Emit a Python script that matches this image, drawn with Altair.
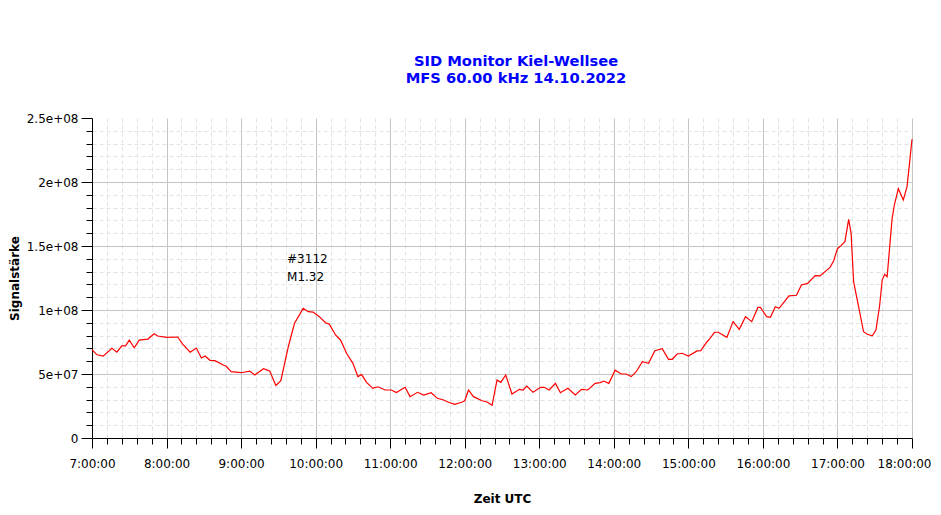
import altair as alt
import pandas as pd

# ---- data ----
times = ["07:00","07:04","07:09","07:16","07:20","07:24","07:27","07:30","07:34","07:38",
         "07:45","07:50","07:53","08:00","08:09","08:13","08:19","08:24","08:28","08:31",
         "08:35","08:39","08:46","08:48","08:52","09:00","09:07","09:11","09:18","09:23",
         "09:28","09:32","09:38","09:43","09:50","09:54","09:58","10:03","10:08","10:11",
         "10:16","10:20","10:25","10:30","10:34","10:37","10:41","10:46","10:50","10:56",
         "11:01","11:05","11:12","11:16","11:22","11:27","11:33","11:38","11:43","11:47",
         "11:52","11:58","12:00","12:03","12:07","12:14","12:18","12:22","12:26","12:29",
         "12:33","12:38","12:44","12:47","12:50","12:55","13:01","13:04","13:08","13:13",
         "13:17","13:23","13:29","13:34","13:39","13:45","13:49","13:52","13:56","14:01",
         "14:06","14:10","14:14","14:18","14:23","14:28","14:33","14:39","14:44","14:47",
         "14:51","14:55","15:00","15:07","15:10","15:15","15:17","15:21","15:24","15:31",
         "15:36","15:41","15:46","15:51","15:56","15:58","16:03","16:06","16:10","16:13",
         "16:21","16:27","16:31","16:36","16:42","16:46","16:54","16:57","17:00","17:03",
         "17:06","17:09","17:11","17:13","17:17","17:21","17:24","17:28","17:31","17:34",
         "17:36","17:38","17:40","17:44","17:46","17:49","17:53","17:56","17:58","18:00"]

signal_mio = [69, 65, 64, 70, 67, 72, 72, 76.5, 70.5, 76.5,
              77.3, 81.5, 79.7, 78.6, 78.9, 73.4, 67, 70.3, 62.5, 64,
              60.7, 60.4, 56.8, 56, 51.8, 51, 52.3, 49.2, 54.1, 52.3,
              41, 44.8, 71.3, 89.6, 101.3, 98.7, 98.4, 94.8, 90, 89,
              80.5, 76.6, 66, 58.3, 48, 49.5, 43.5, 38.8, 40, 37.5,
              37.5, 35.5, 39.6, 32.3, 35.7, 33.6, 35.4, 31, 29.7, 27.9,
              26.3, 28.1, 29.1, 37.5, 32.3, 29.1, 28.1, 25.5, 45.3, 43.5,
              49.2, 34.4, 38, 37.5, 40.6, 35.7, 39.6, 39.6, 37.5, 42.7,
              35.4, 38.8, 33.6, 38, 37.5, 42.7, 43.3, 44.5, 42.7, 53,
              50, 50, 48, 51.8, 59.6, 58.3, 68.2, 69.8, 61.5, 61.5,
              65.6, 66.2, 64, 68, 68.2, 75.2, 77.3, 82.6, 82.6, 78.6,
              90.9, 84.9, 94.8, 90.9, 102, 102, 94.8, 94.3, 102.6, 101.3,
              111, 111.5, 119.5, 120.8, 126.8, 126.6, 133.3, 138.5, 147.9, 150.5,
              153.4, 170.8, 159.9, 122.1, 102.6, 83, 81, 79.9, 84.4, 103.9,
              123.4, 127.9, 126, 171.6, 183, 194.8, 186, 196.4, 214.6, 233.4]

ann_times = ["09:37", "09:37"]
ann_values_mio = [140, 126]
ann_texts = ["#3112", "M1.32"]

title_lines = ["SID Monitor Kiel-Wellsee", "MFS 60.00 kHz 14.10.2022"]
x_title = "Zeit UTC"
y_title = "Signalstärke"

assert len(times) == len(signal_mio)

DATE = "2022-10-14"
df = pd.DataFrame({
    "t": [f"{DATE}T{t}:00" for t in times],
    "v": [v * 1e6 for v in signal_mio],
})
ann = pd.DataFrame({
    "t": [f"{DATE}T{t}:00" for t in ann_times],
    "v": [v * 1e6 for v in ann_values_mio],
    "label": ann_texts,
})


def dt(h, m=0):
    return alt.DateTime(year=2022, month=10, date=14, hours=h, minutes=m)


major_x = [dt(h) for h in range(7, 19)]
minor_x = [dt(7 + (k * 12) // 60, (k * 12) % 60) for k in range(56) if (k * 12) % 60 != 0]
major_y = [0, 5e7, 1e8, 1.5e8, 2e8, 2.5e8]
minor_y = [k * 1e7 for k in range(25) if k % 5 != 0]

FONT = "DejaVu Sans"
xscale = alt.Scale(domain=[dt(7), dt(18)], nice=False)
yscale = alt.Scale(domain=[0, 2.5e8], nice=False)

minor = alt.Chart(df).mark_line(opacity=0).encode(
    x=alt.X("t:T", scale=xscale, axis=alt.Axis(
        orient="bottom", values=minor_x, labels=False, ticks=True, tickSize=6,
        tickColor="black", domain=False, grid=True, gridColor="#e2e2e2",
        gridDash=[4, 3], title=None)),
    y=alt.Y("v:Q", scale=yscale, axis=alt.Axis(
        orient="left", values=minor_y, labels=False, ticks=True, tickSize=6,
        tickColor="black", domain=False, grid=True, gridColor="#e2e2e2",
        gridDash=[4, 3], title=None)),
)

major = alt.Chart(df).mark_line(color="#ff0000", strokeWidth=1.2).encode(
    x=alt.X("t:T", scale=xscale, axis=alt.Axis(
        orient="bottom", values=major_x, format="%-H:%M:%S", tickSize=10,
        tickColor="black", domainColor="black", grid=True, gridColor="#c4c4c4",
        labelFont=FONT, labelFontSize=12, labelColor="black", labelPadding=10,
        labelOffset={"condition": {"test": "hours(datum.value) >= 18", "value": -8}, "value": 0},
        labelFlush=False, labelBound=False, title=x_title, titleFont=FONT, titleFontSize=12,
        titleFontWeight="bold", titleColor="black", titlePadding=24)),
    y=alt.Y("v:Q", scale=yscale, axis=alt.Axis(
        orient="left", values=major_y, tickSize=11, tickColor="black",
        domainColor="black", grid=True, gridColor="#c4c4c4",
        gridOpacity={"condition": {"test": "datum.value >= 2.5e8", "value": 0}, "value": 1},
        labelExpr="datum.value == 0 ? '0' : replace(format(datum.value, '.2~e'), 'e+', 'e+0')",
        labelFont=FONT, labelFontSize=12, labelColor="black", labelPadding=3,
        labelFlush=False, title=y_title, titleFont=FONT, titleFontSize=12,
        titleFontWeight="bold", titleColor="black", titlePadding=5)),
)

labels = alt.Chart(ann).mark_text(align="left", baseline="middle", font=FONT,
                                  fontSize=12, color="black").encode(
    x=alt.X("t:T", scale=xscale, axis=None),
    y=alt.Y("v:Q", scale=yscale, axis=None),
    text="label:N",
)

chart = alt.layer(minor, major, labels).resolve_axis(
    x="independent", y="independent"
).properties(
    width=820,
    height=320,
    autosize=alt.AutoSizeParams(type="none"),
    padding={"left": 84, "top": 110, "right": 21, "bottom": 69},
    background="white",
    title=alt.TitleParams(
        text=title_lines, color="#0000ff", font=FONT, fontSize=14.7,
        fontWeight="bold", lineHeight=17, anchor="middle", dx=14, offset=26,
    ),
).configure_view(stroke=None)

chart.save("out.html", embed_options={"renderer": "svg", "actions": False})
